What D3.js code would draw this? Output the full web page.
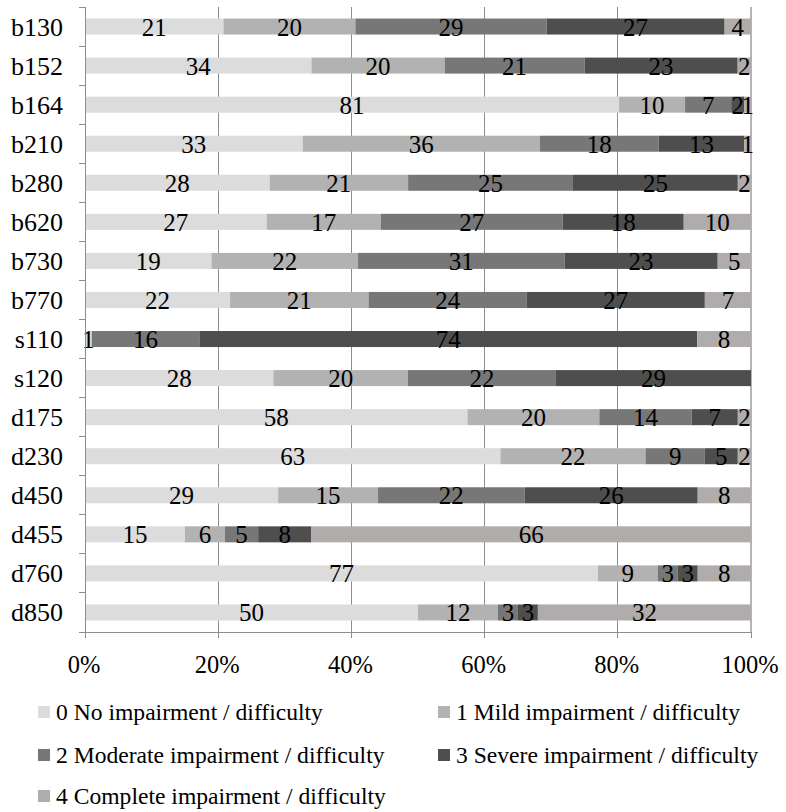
<!DOCTYPE html>
<html>
<head>
<meta charset="utf-8">
<script src="https://cdn.jsdelivr.net/npm/d3@7"></script>
<style>
  html, body { margin: 0; padding: 0; background: #fff; }
  svg { display: block; }
</style>
</head>
<body>
<svg id="chart" width="786" height="812"></svg>
<script>
// ICF codes, top to bottom
const categories = ["b130", "b152", "b164", "b210", "b280", "b620", "b730", "b770",
                    "s110", "s120", "d175", "d230", "d450", "d455", "d760", "d850"];

// Severity series (counts per code, shown as share of each row)
const seriesNames = [
  "0 No impairment / difficulty",
  "1 Mild impairment / difficulty",
  "2 Moderate impairment / difficulty",
  "3 Severe impairment / difficulty",
  "4 Complete impairment / difficulty"
];
const none     = [21, 34, 81, 33, 28, 27, 19, 22, 1, 28, 58, 63, 29, 15, 77, 50];
const mild     = [20, 20, 10, 36, 21, 17, 22, 21, 0, 20, 20, 22, 15, 6, 9, 12];
const moderate = [29, 21, 7, 18, 25, 27, 31, 24, 16, 22, 14, 9, 22, 5, 3, 3];
const severe   = [27, 23, 2, 13, 25, 18, 23, 27, 74, 29, 7, 5, 26, 8, 3, 3];
const complete = [4, 2, 1, 1, 2, 10, 5, 7, 8, 0, 2, 2, 8, 66, 8, 32];

const tickValues = [0, 0.2, 0.4, 0.6, 0.8, 1];
const colors = ["#dcdcdc", "#b2b2b2", "#777777", "#4e4e4e", "#b0acab"];

const seriesValues = [none, mild, moderate, severe, complete];
const rows = categories.map((c, i) => {
  const r = { cat: c };
  seriesNames.forEach((s, k) => { r[s] = seriesValues[k][i]; });
  return r;
});

const svg = d3.select("#chart")
  .attr("font-family", "'Liberation Serif', 'Times New Roman', Times, serif");
const plotLeft = 85, plotRight = 751, plotTop = 7, plotBottom = 632;

const x = d3.scaleLinear().domain([0, 1]).range([plotLeft, plotRight]);
const y = d3.scaleBand().domain(categories).range([plotTop, plotBottom])
  .paddingInner(0.59).paddingOuter(0.295);
const color = d3.scaleOrdinal().domain(seriesNames).range(colors);

const stacked = d3.stack().keys(seriesNames).offset(d3.stackOffsetExpand)(rows);

// vertical gridlines
svg.append("g").selectAll("line")
  .data(tickValues.slice(1))
  .join("line")
  .attr("x1", d => x(d)).attr("x2", d => x(d))
  .attr("y1", plotTop).attr("y2", plotBottom)
  .attr("stroke", d => d === 1 ? "#b4b4b4" : "#8e8e8e")
  .attr("stroke-width", d => d === 1 ? 2 : 1)
  .attr("shape-rendering", "crispEdges");

// bars
const layers = svg.append("g").selectAll("g")
  .data(stacked)
  .join("g")
  .attr("fill", d => color(d.key));

layers.selectAll("rect")
  .data(d => d)
  .join("rect")
  .attr("x", d => x(d[0]))
  .attr("width", d => x(d[1]) - x(d[0]))
  .attr("y", d => y(d.data.cat))
  .attr("height", y.bandwidth());

// value labels
const labels = svg.append("g").attr("font-size", 25).attr("text-anchor", "middle");
stacked.forEach(layer => {
  layer.forEach(d => {
    const v = d.data[layer.key];
    if (!v) return;
    labels.append("text")
      .attr("x", (x(d[0]) + x(d[1])) / 2)
      .attr("y", y(d.data.cat) + y.bandwidth() / 2 + 9)
      .text(v);
  });
});

// y axis
const yAxis = svg.append("g");
yAxis.append("line")
  .attr("x1", plotLeft).attr("x2", plotLeft).attr("y1", plotTop).attr("y2", plotBottom)
  .attr("stroke", "#8e8e8e").attr("shape-rendering", "crispEdges");
yAxis.selectAll("line.tick")
  .data(d3.range(categories.length + 1))
  .join("line")
  .attr("class", "tick")
  .attr("x1", plotLeft - 6).attr("x2", plotLeft)
  .attr("y1", i => plotTop + i * y.step()).attr("y2", i => plotTop + i * y.step())
  .attr("stroke", "#8e8e8e").attr("shape-rendering", "crispEdges");
yAxis.selectAll("text")
  .data(categories)
  .join("text")
  .attr("x", 63)
  .attr("y", d => y(d) + y.bandwidth() / 2 + 9)
  .attr("text-anchor", "end")
  .attr("font-size", 26)
  .text(d => d);

// x axis
const xAxis = svg.append("g");
xAxis.append("line")
  .attr("x1", plotLeft - 6).attr("x2", plotRight).attr("y1", plotBottom).attr("y2", plotBottom)
  .attr("stroke", "#8e8e8e").attr("shape-rendering", "crispEdges");
xAxis.selectAll("line.tick")
  .data(tickValues)
  .join("line")
  .attr("class", "tick")
  .attr("x1", d => x(d)).attr("x2", d => x(d))
  .attr("y1", plotBottom).attr("y2", plotBottom + 6)
  .attr("stroke", "#8e8e8e").attr("shape-rendering", "crispEdges");
xAxis.selectAll("text")
  .data(tickValues)
  .join("text")
  .attr("x", d => x(d) - 1)
  .attr("y", 673)
  .attr("text-anchor", "middle")
  .attr("font-size", 24.5)
  .text(d3.format(".0%"));

// legend
const legendPos = [[38, 712], [438, 712], [38, 755], [438, 755], [38, 796]];
const legend = svg.append("g").selectAll("g")
  .data(seriesNames)
  .join("g")
  .attr("transform", (d, i) => `translate(${legendPos[i][0]},${legendPos[i][1]})`);
legend.append("rect")
  .attr("x", 0).attr("y", -6).attr("width", 12).attr("height", 12)
  .attr("fill", d => color(d));
legend.append("text")
  .attr("x", 18).attr("y", 7.5)
  .attr("font-size", 23.6)
  .text(d => d);
</script>
</body>
</html>
